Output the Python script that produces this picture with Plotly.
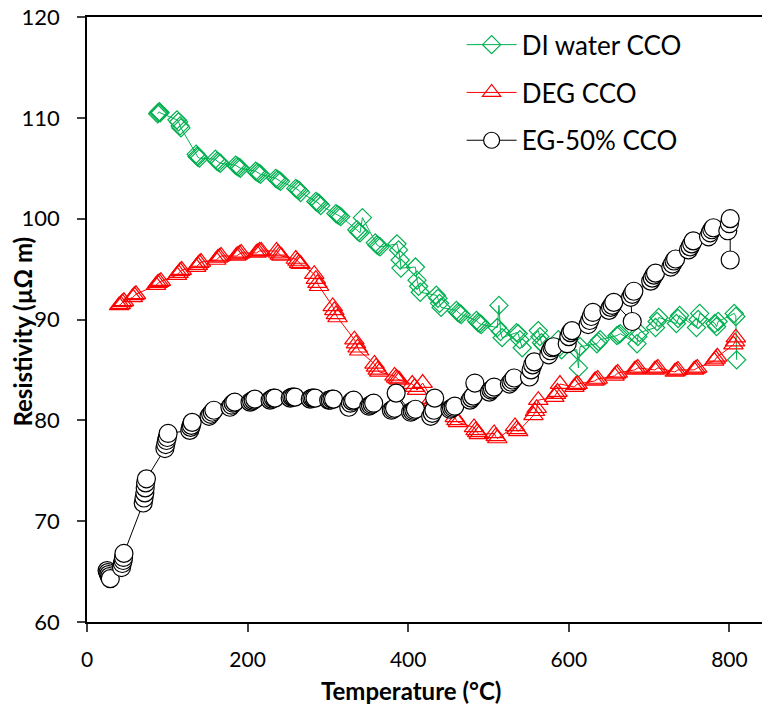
import plotly.graph_objects as go

# ---------------- data ----------------
di_T = [88, 89, 90, 91,
        112, 114, 116, 117,
        136, 137, 138, 140,
        160, 162, 164, 166,
        185, 187, 189, 191,
        210, 212, 214, 216,
        235, 237, 239, 241,
        260, 262, 264, 266,
        285, 287, 289, 291,
        310, 312, 314, 316,
        336, 338, 340, 343,
        359, 361, 363, 365,
        386, 388, 390, 391,
        409, 411, 413, 415,
        435, 437, 439, 441,
        460, 462, 464, 466,
        485, 487, 489, 491,
        511, 513, 515, 517,
        535, 537, 539, 542,
        562, 564, 566, 568,
        587, 589, 591,
        610, 612, 614,
        635, 637, 639,
        660, 662, 664,
        685, 686, 688,
        708, 710, 712,
        734, 736, 738,
        759, 761, 763,
        782, 784, 786,
        806, 808, 809]
di_R = [110.4, 110.5, 110.6, 110.5,
        109.8, 109.6, 109.2, 109.0,
        106.4, 106.2, 106.1, 106.0,
        105.9, 105.7, 105.6, 105.5,
        105.3, 105.2, 105.1, 105.0,
        104.7, 104.6, 104.5, 104.4,
        104.0, 103.9, 103.8, 103.7,
        103.0, 102.9, 102.8, 102.6,
        101.7, 101.6, 101.5, 101.3,
        100.5, 100.4, 100.3, 100.2,
        98.9, 98.7, 98.6, 100.1,
        97.6, 97.4, 97.3, 97.2,
        97.5, 96.9, 95.9, 95.1,
        95.2, 93.9, 93.3, 92.7,
        92.4, 92.1, 91.6, 91.2,
        90.9, 90.7, 90.6, 90.5,
        89.9, 89.7, 89.6, 89.5,
        89.2, 91.4, 88.8, 88.2,
        88.7, 88.6, 88.0, 87.2,
        88.9, 88.3, 87.7, 87.5,
        88.0, 87.3, 87.0,
        87.0, 85.2, 87.3,
        87.6, 87.8, 88.0,
        88.4, 88.5, 88.6,
        87.6, 88.3, 88.7,
        89.2, 89.8, 90.2,
        89.6, 90.1, 90.4,
        89.2, 90.0, 90.6,
        89.6, 89.3, 89.8,
        90.6, 90.3, 86.0]

deg_T = [40, 42, 44, 46,
         57, 59, 61,
         86, 88, 90, 92,
         112, 114, 116, 118,
         136, 138, 140, 142,
         161, 163, 165, 167,
         186, 188, 190, 192,
         211, 213, 215, 217,
         236, 238, 240, 242,
         260, 262, 264, 266,
         283, 285, 287, 289,
         306, 308, 310, 312,
         333, 335, 337, 339,
         358, 360, 362, 364,
         383, 385, 387, 389,
         405, 408, 411, 418,
         429, 431, 433,
         458, 460, 462,
         482, 484, 486, 488,
         507, 509, 511,
         533, 535, 537,
         556, 558, 560, 562,
         582, 584, 586, 589,
         607, 609, 611,
         632, 634, 636,
         657, 659, 661,
         682, 684, 686,
         707, 709, 711,
         732, 734, 736,
         756, 758, 760,
         781, 783, 785,
         805, 807, 808]
deg_R = [91.4, 91.5, 91.7, 91.8,
         92.2, 92.4, 92.5,
         93.4, 93.6, 93.7, 93.8,
         94.4, 94.6, 94.8, 94.9,
         95.2, 95.4, 95.6, 95.7,
         95.9, 96.1, 96.2, 96.3,
         96.3, 96.4, 96.5, 96.6,
         96.6, 96.7, 96.8, 96.8,
         96.8, 96.6, 96.4, 96.3,
         96.0, 95.8, 95.6, 95.5,
         94.5, 94.0, 93.6, 93.3,
         91.3, 90.9, 90.5, 90.2,
         88.0, 87.6, 87.2, 86.9,
         85.6, 85.3, 85.0, 84.8,
         84.4, 84.2, 84.1, 84.0,
         83.6, 83.3, 83.0, 83.7,
         82.1, 81.9, 81.7,
         80.3, 80.0, 79.8,
         79.3, 79.0, 78.8, 78.6,
         78.7, 78.4, 78.2,
         79.4, 79.1, 78.9,
         80.5, 80.9, 81.2, 82.0,
         82.3, 82.6, 82.8, 83.6,
         83.3, 83.5, 83.6,
         83.9, 84.0, 84.1,
         84.4, 84.6, 84.7,
         85.0, 85.1, 85.2,
         85.0, 85.1, 85.2,
         84.8, 84.9, 85.0,
         85.0, 85.1, 85.2,
         85.9, 86.1, 86.3,
         87.5, 87.8, 88.2]

eg_T = [25, 26, 27, 28, 29,
        43, 44, 45, 45.5, 46,
        70, 71, 72, 72.5, 73, 74,
        97, 98, 99, 100, 101,
        128, 129, 130, 131,
        152, 154, 156, 158,
        178, 180, 182, 184,
        203, 205, 207, 209,
        228, 230, 232, 234,
        253, 255, 257, 259,
        278, 280, 282, 284,
        301, 303, 305, 307,
        326, 328, 330, 332,
        351, 353, 355, 357,
        379, 381, 383, 385,
        403, 405, 407, 409,
        428, 430, 432, 433,
        452, 454, 456, 458,
        477, 479, 481, 483,
        501, 503, 505, 507,
        526, 528, 530, 532,
        551, 553, 555, 557,
        575, 577, 579, 581,
        598, 600, 602, 604,
        624, 626, 628, 630,
        650, 652, 654, 656,
        679, 677, 679, 681,
        702, 704, 706, 708,
        727, 729, 731, 733,
        749, 751, 753, 755,
        774, 776, 778, 780,
        798, 800, 801, 801]
eg_R = [65.1, 64.9, 64.7, 64.5, 64.3,
        65.4, 65.8, 66.1, 66.4, 66.8,
        71.8, 72.3, 72.8, 73.3, 73.8, 74.2,
        77.2, 77.6, 78.0, 78.3, 78.7,
        79.0, 79.3, 79.5, 79.8,
        80.4, 80.6, 80.8, 81.0,
        81.3, 81.5, 81.7, 81.8,
        81.8, 81.9, 82.0, 82.1,
        82.0, 82.1, 82.2, 82.2,
        82.2, 82.3, 82.3, 82.3,
        82.1, 82.2, 82.2, 82.2,
        82.0, 82.0, 82.1, 82.1,
        81.3, 81.7, 81.9, 82.0,
        81.4, 81.5, 81.6, 81.7,
        81.0, 81.1, 81.2, 82.7,
        80.8, 80.9, 81.0, 81.1,
        80.4, 80.7, 81.0, 82.2,
        81.1, 81.2, 81.3, 81.4,
        82.0, 82.2, 82.4, 83.7,
        82.8, 83.0, 83.1, 83.3,
        83.6, 83.8, 84.0, 84.2,
        84.3, 85.0, 85.5, 85.8,
        86.5, 86.9, 87.2, 87.3,
        87.6, 88.3, 88.7, 88.9,
        89.5, 89.9, 90.3, 90.7,
        90.9, 91.2, 91.4, 91.7,
        89.8, 92.2, 92.5, 92.8,
        93.8, 94.1, 94.4, 94.6,
        95.2, 95.5, 95.8, 96.0,
        96.9, 97.2, 97.5, 97.8,
        98.2, 98.6, 98.9, 99.1,
        98.8, 99.5, 100.0, 95.9]

series_names = ["DI water CCO", "DEG CCO", "EG-50% CCO"]
x_ticks = [0, 200, 400, 600, 800]
y_ticks = [60, 70, 80, 90, 100, 110, 120]
x_title = "Temperature (°C)"
y_title = "Resistivity (µΩ m)"

GREEN = "#00B050"
RED = "#FF0000"
BLACK = "#000000"
FONT = "Lato"

fig = go.Figure()
fig.add_trace(go.Scatter(
    x=di_T, y=di_R, mode="lines+markers", name=series_names[0], legendgroup="a",
    line=dict(color=GREEN, width=1),
    marker=dict(symbol="diamond-open", size=14, color=GREEN, line=dict(width=1.2, color=GREEN))))
fig.add_trace(go.Scatter(
    x=deg_T, y=deg_R, mode="lines+markers", name=series_names[1], legendgroup="b",
    line=dict(color=RED, width=1),
    marker=dict(symbol="triangle-up-open", size=17, color=RED, line=dict(width=1.2, color=RED))))
fig.add_trace(go.Scatter(
    x=eg_T, y=eg_R, mode="lines+markers", name=series_names[2], legendgroup="c",
    line=dict(color=BLACK, width=1),
    marker=dict(symbol="circle", size=18, color="white", line=dict(width=1.2, color=BLACK))))

fig.update_layout(
    width=762, height=708,
    margin=dict(l=87, r=0, t=17, b=86),
    paper_bgcolor="white", plot_bgcolor="white",
    font=dict(family=FONT, size=21, color="black"),
    showlegend=True,
    legend=dict(x=0.555, y=0.993, xanchor="left", yanchor="top",
                font=dict(family=FONT, size=26, color="black"),
                bgcolor="rgba(0,0,0,0)", tracegroupgap=11, traceorder="grouped",
                itemwidth=50),
    xaxis=dict(range=[0, 840.6], tickvals=x_ticks, ticks="outside", ticklen=8, tickwidth=1.5,
               tickcolor="#404040", showline=True, linecolor="black", linewidth=1.5, mirror=True,
               showgrid=False, zeroline=False, ticklabelstandoff=10,
               tickfont=dict(family=FONT, size=21)),
    yaxis=dict(range=[60, 120], tickvals=y_ticks, ticks="outside", ticklen=8, tickwidth=1.5,
               tickcolor="#404040", showline=True, linecolor="black", linewidth=1.5,
               showgrid=False, zeroline=False, ticklabelstandoff=13,
               tickfont=dict(family=FONT, size=22)),
    annotations=[
        dict(text="<b>" + x_title + "</b>", xref="paper", yref="paper", x=0.48, y=0,
             yshift=-68, xanchor="center", yanchor="middle", showarrow=False,
             font=dict(family=FONT, size=24)),
        dict(text="<b>" + y_title + "</b>", xref="paper", yref="paper", x=0, y=0.48,
             xshift=-64, xanchor="center", yanchor="middle", textangle=-90, showarrow=False,
             font=dict(family=FONT, size=24)),
    ],
)

fig.write_html("out.html")
